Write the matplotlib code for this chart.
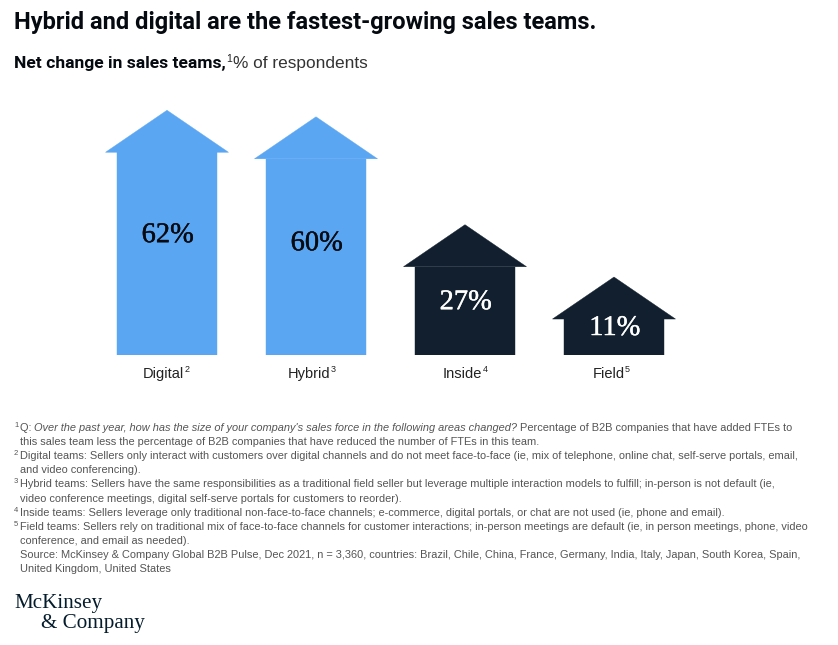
import matplotlib
matplotlib.use('Agg')
import matplotlib.pyplot as plt
import matplotlib.patheffects as pe

W, H = 838, 645

teams = ['Digital', 'Hybrid', 'Inside', 'Field']
team_notes = ['2', '3', '4', '5']
net_change = [62, 60, 27, 11]
value_labels = ['62%', '60%', '27%', '11%']
team_colors = ['#5BA6F3', '#5BA6F3', '#111F2E', '#111F2E']
text_colors = ['#050A10', '#050A10', '#FFFFFF', '#FFFFFF']
label_heights = [36.5, 34, 16, 8.1]

footnotes = [
    ('1', [('Q: ', False), ("Over the past year, how has the size of your company's sales force in the following areas changed?", True),
           (' Percentage of B2B companies that have added FTEs to', False)]),
    (None, [('this sales team less the percentage of B2B companies that have reduced the number of FTEs in this team.', False)]),
    ('2', [('Digital teams: Sellers only interact with customers over digital channels and do not meet face-to-face (ie, mix of telephone, online chat, self-serve portals, email,', False)]),
    (None, [('and video conferencing).', False)]),
    ('3', [('Hybrid teams: Sellers have the same responsibilities as a traditional field seller but leverage multiple interaction models to fulfill; in-person is not default (ie,', False)]),
    (None, [('video conference meetings, digital self-serve portals for customers to reorder).', False)]),
    ('4', [('Inside teams: Sellers leverage only traditional non-face-to-face channels; e-commerce, digital portals, or chat are not used (ie, phone and email).', False)]),
    ('5', [('Field teams: Sellers rely on traditional mix of face-to-face channels for customer interactions; in-person meetings are default (ie, in person meetings, phone, video', False)]),
    (None, [('conference, and email as needed).', False)]),
    (None, [('Source: McKinsey & Company Global B2B Pulse, Dec 2021, n = 3,360, countries: Brazil, Chile, China, France, Germany, India, Italy, Japan, South Korea, Spain,', False)]),
    (None, [('United Kingdom, United States', False)]),
]

plt.rcParams['font.family'] = ['Liberation Sans', 'DejaVu Sans']
fig = plt.figure(figsize=(W / 100, H / 100), dpi=100, facecolor='white')


def put(x, y, s, **kw):
    # x, y in pixels from the top left, y is the text baseline
    kw.setdefault('va', 'baseline')
    t = fig.text(x / W, 1 - y / H, s, **kw)
    box = t.get_window_extent(fig.canvas.get_renderer())
    return box.x1


# one data unit is 3.27 px tall, one category 149 px wide, zero sits at y=355
ax = fig.add_axes([0, 1 - 355 / H, 1, 255 / H])
ax.set_xlim(-167 / 149, (W - 167) / 149)
ax.set_ylim(0, 255 / 3.27)
ax.axis('off')

positions = range(len(teams))
ax.bar(positions, net_change, width=100 / 149, color=team_colors, edgecolor=team_colors, lw=0.3)
roof_h = 42 / 3.27
roof_w = 123 / 149
for i, v in enumerate(net_change):
    ax.fill([i - roof_w / 2, i, i + roof_w / 2], [v, v + roof_h, v], color=team_colors[i], lw=0.3)
    t = ax.text(i + 0.005, label_heights[i], value_labels[i], ha='center', va='center', color=text_colors[i],
                family='Liberation Serif', fontsize=20.5)
    t.set_path_effects([pe.withStroke(linewidth=0.3, foreground=text_colors[i])])

# category labels with their note marks
label_x = [143, 288, 443, 593]
for i, name in enumerate(teams):
    end = put(label_x[i], 378, name, fontsize=10.5, color='#222222')
    put(end, 372, team_notes[i], fontsize=6.5, color='#222222')

put(14, 28.5, 'Hybrid and digital are the fastest-growing sales teams.', fontsize=17,
    fontweight='bold', color='#050A10', family='Roboto')
end = put(14, 68, 'Net change in sales teams,', fontsize=12.6, fontweight='bold', color='#050A10', family='Roboto')
end = put(end, 62, '1', fontsize=7.5, color='#222222')
put(end + 1.5, 68, '% of respondents', fontsize=12.4, color='#333333')

base = 431
for n, (mark, parts) in enumerate(footnotes):
    y = base + n * 14.1
    if mark:
        put(14, y - 4, mark, fontsize=5.5, color='#555555')
    x = 19.5
    for s, italic in parts:
        x = put(x, y, s, fontsize=7.96, color='#555555', style='italic' if italic else 'normal')

put(14, 608, 'McKinsey', fontsize=15.2, family='Liberation Serif', color='#051C2C')
put(41, 628, '& Company', fontsize=15.2, family='Liberation Serif', color='#051C2C')

fig.savefig('out.png', dpi=100)
